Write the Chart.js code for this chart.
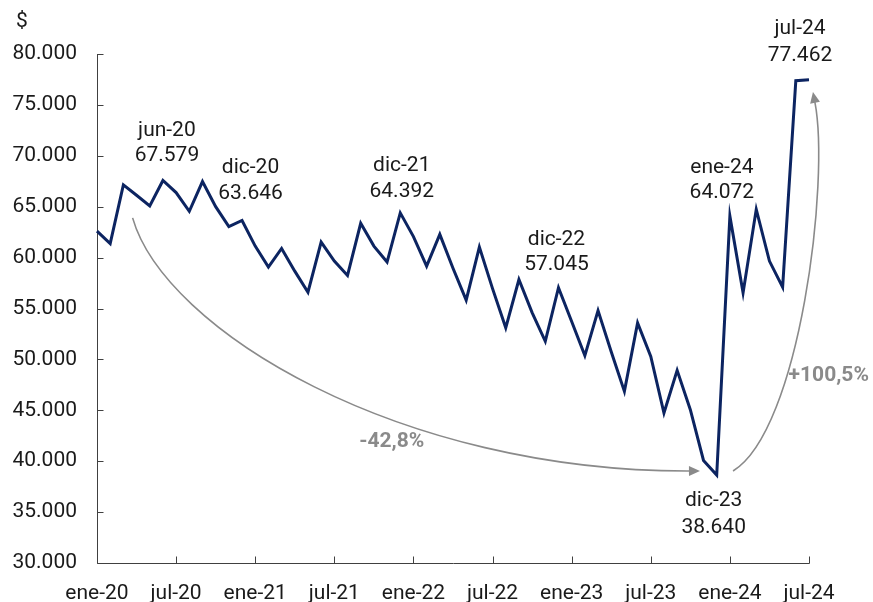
<!DOCTYPE html>
<html>
<head>
<meta charset="utf-8">
<script src="https://cdn.jsdelivr.net/npm/chart.js@4.4.1/dist/chart.umd.min.js"></script>
<style>
  html, body { margin: 0; padding: 0; background: #ffffff; }
  #wrap { width: 873px; height: 602px; }
</style>
</head>
<body>
<div id="wrap"><canvas id="c" width="873" height="602"></canvas></div>
<script>
// ---------- DATA ----------
const categories = [
  'ene-20','feb-20','mar-20','abr-20','may-20','jun-20','jul-20','ago-20','sep-20','oct-20','nov-20','dic-20',
  'ene-21','feb-21','mar-21','abr-21','may-21','jun-21','jul-21','ago-21','sep-21','oct-21','nov-21','dic-21',
  'ene-22','feb-22','mar-22','abr-22','may-22','jun-22','jul-22','ago-22','sep-22','oct-22','nov-22','dic-22',
  'ene-23','feb-23','mar-23','abr-23','may-23','jun-23','jul-23','ago-23','sep-23','oct-23','nov-23','dic-23',
  'ene-24','feb-24','mar-24','abr-24','may-24','jun-24','jul-24'
];
const values = [
  62600, 61370, 67140, 66120, 65070, 67579, 66390, 64550, 67470, 65000, 63040, 63646,
  61130, 59070, 60900, 58670, 56600, 61530, 59660, 58250, 63370, 61130, 59560, 64392,
  62060, 59160, 62280, 58950, 55820, 61030, 56950, 53100, 57850, 54600, 51780, 57045,
  53720, 50370, 54800, 50750, 46860, 53590, 50300, 44730, 48930, 45060, 40070, 38640,
  64072, 56550, 64740, 59660, 57100, 77370, 77462
];
const yMin = 30000, yMax = 80000, yStep = 5000;
const xLabelEvery = 6;
const unitLabel = '$';
// highlighted points (category index)
const highlighted = [5, 11, 23, 35, 48, 54, 47];
const changeLabels = ['-42,8%', '+100,5%'];

// ---------- helpers ----------
function fmt(v) { return String(Math.round(v)).replace(/\B(?=(\d{3})+(?!\d))/g, '.'); }

// annotation placement (pixel offsets from the point)
const labelOffsets = {
  5:  {dx: 4,   dy: [-50, -24.5]},
  11: {dx: 8.5, dy: [-53, -27]},
  23: {dx: 1.5, dy: [-47, -21]},
  35: {dx: -2,  dy: [-48, -22.5]},
  48: {dx: -8,  dy: [-48, -23.5]},
  54: {dx: -9,  dy: [-51, -24.5]},
  47: {dx: -3,  dy: [26, 52.5]}
};
// arrows as cubic bezier in data space [index, value]
const arrows = [
  [[2.7, 63900], [5.12, 52890], [22.96, 38940], [45.73, 39040]],
  [[48.24, 39040], [53.32, 43065], [55.59, 67620], [54.3, 76270]]
];
const changePos = [[22.35, 41900], [55.5, 48370]];

const INK = '#1a1a1a';
const AXIS = '#404040';
const GREY = '#8a8a8a';
const FONT = 'Roboto, "Liberation Sans", sans-serif';
const FS = 21;

const decorations = {
  id: 'decorations',
  beforeDatasetsDraw(chart) {
    const {ctx, chartArea: ca, scales: {x, y}} = chart;
    ctx.save();
    ctx.strokeStyle = AXIS;
    ctx.lineWidth = 1;
    const L = Math.round(ca.left) + 0.5, B = Math.round(ca.bottom) + 0.5;
    ctx.beginPath();
    ctx.moveTo(L, Math.round(ca.top)); ctx.lineTo(L, B);
    ctx.lineTo(Math.round(ca.right) + 0.5, B);
    ctx.stroke();
    ctx.beginPath();
    y.ticks.forEach(t => {
      const py = Math.round(y.getPixelForValue(t.value)) + 0.5;
      ctx.moveTo(L, py); ctx.lineTo(L + 6, py);
    });
    for (let i = 0; i < categories.length; i += xLabelEvery) {
      const px = Math.round(x.getPixelForValue(i)) + 0.5;
      ctx.moveTo(px, B); ctx.lineTo(px, B - 7);
    }
    ctx.stroke();
    ctx.restore();
  },
  afterDatasetsDraw(chart) {
    const {ctx, scales: {x, y}} = chart;
    ctx.save();
    ctx.fillStyle = INK;
    ctx.font = FS + 'px ' + FONT;
    ctx.textAlign = 'center';
    ctx.textBaseline = 'middle';
    ctx.fillText(unitLabel, 22, 22);
    highlighted.forEach(i => {
      const o = labelOffsets[i];
      const px = x.getPixelForValue(i), py = y.getPixelForValue(values[i]);
      ctx.fillText(categories[i], px + o.dx, py + o.dy[0]);
      ctx.fillText(fmt(values[i]), px + o.dx, py + o.dy[1]);
    });
    ctx.strokeStyle = GREY; ctx.fillStyle = GREY; ctx.lineWidth = 1.6;
    arrows.forEach(a => {
      const p = a.map(q => [x.getPixelForValue(q[0]), y.getPixelForValue(q[1])]);
      const ang = Math.atan2(p[3][1] - p[2][1], p[3][0] - p[2][0]);
      const head = 11, hw = 5;
      const ex = p[3][0] - Math.cos(ang) * (head - 1), ey = p[3][1] - Math.sin(ang) * (head - 1);
      ctx.beginPath();
      ctx.moveTo(p[0][0], p[0][1]);
      ctx.bezierCurveTo(p[1][0], p[1][1], p[2][0], p[2][1], ex, ey);
      ctx.stroke();
      ctx.beginPath();
      ctx.moveTo(p[3][0], p[3][1]);
      ctx.lineTo(p[3][0] - Math.cos(ang) * head + Math.sin(ang) * hw, p[3][1] - Math.sin(ang) * head - Math.cos(ang) * hw);
      ctx.lineTo(p[3][0] - Math.cos(ang) * head - Math.sin(ang) * hw, p[3][1] - Math.sin(ang) * head + Math.cos(ang) * hw);
      ctx.closePath();
      ctx.fill();
    });
    ctx.font = 'bold ' + FS + 'px ' + FONT;
    changeLabels.forEach((t, k) => {
      ctx.fillText(t, x.getPixelForValue(changePos[k][0]), y.getPixelForValue(changePos[k][1]));
    });
    ctx.restore();
  }
};

function build() {
  Chart.defaults.font.family = FONT;
  Chart.defaults.font.size = FS;
  Chart.defaults.color = INK;
  new Chart(document.getElementById('c'), {
    type: 'line',
    data: {
      labels: categories,
      datasets: [{
        data: values,
        borderColor: '#0c2461',
        borderWidth: 3,
        pointRadius: 0,
        tension: 0,
        borderJoinStyle: 'miter',
        fill: false
      }]
    },
    options: {
      responsive: false,
      animation: false,
      events: [],
      layout: { padding: { top: 54, right: 64, left: 0, bottom: 0 } },
      plugins: { legend: { display: false }, tooltip: { enabled: false } },
      scales: {
        x: {
          type: 'category',
          offset: false,
          grid: { display: false, drawTicks: false },
          border: { display: false },
          afterFit(s) { s.height = 39; },
          ticks: {
            autoSkip: false, maxRotation: 0, minRotation: 0, padding: 18,
            color: INK,
            callback: (v, i) => (i % xLabelEvery === 0 ? categories[i] : '')
          }
        },
        y: {
          min: yMin, max: yMax,
          grid: { display: false, drawTicks: false },
          border: { display: false },
          afterFit(s) { s.width = 97; },
          ticks: { stepSize: yStep, padding: 20, color: INK, callback: v => fmt(v) }
        }
      }
    },
    plugins: [decorations]
  });
}
if (document.fonts && document.fonts.load) {
  Promise.all([document.fonts.load(FS + 'px Roboto'), document.fonts.load('bold ' + FS + 'px Roboto')]).then(build, build);
} else { build(); }
</script>
</body>
</html>
